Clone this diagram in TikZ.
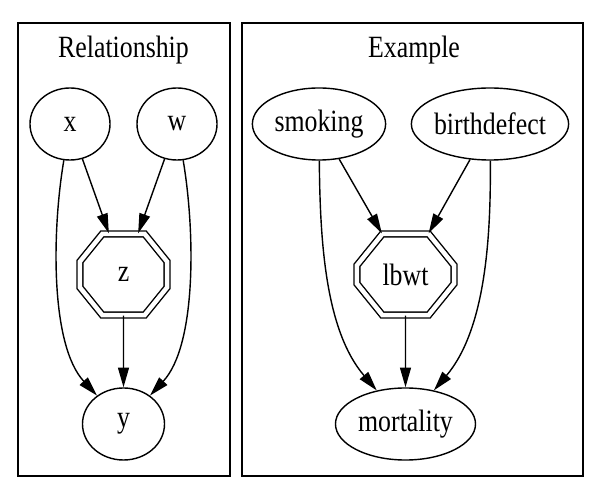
\documentclass[tikz,border=0pt]{standalone}
\usepackage{fontspec}
\newfontfamily\gvfamily[FakeStretch=0.835]{Liberation Serif}
\usetikzlibrary{shapes.geometric,shapes.misc,arrows.meta,positioning}

\begin{document}
\begin{tikzpicture}[x=0.025cm, y=0.025cm, >={Triangle[length=14pt,width=7.8pt]},
  every node/.style={font=\gvfamily\fontsize{22}{26}\selectfont},
  ellnode/.style={draw, ellipse, line width=1pt, inner sep=0pt, minimum height=1.8cm},
  octnode/.style={draw, chamfered rectangle, double, double distance=3.2pt, line width=1pt,
    inner sep=0pt, text width=1.15cm, align=center, chamfered rectangle angle=39,
    chamfered rectangle xsep=0.63cm, chamfered rectangle ysep=0.51cm, minimum height=2.025cm},
  link/.style={->, line width=1pt}]
  \useasboundingbox (0,0) rectangle (600,500);

  % clusters
  \draw[line width=0.9pt] (18,24) rectangle (230,477);
  \draw[line width=0.9pt] (242,24) rectangle (583,477);
  \node[anchor=base] at (123.5,442) (reltitle) {Relationship};
  \node[anchor=base] at (414,442) (extitle) {Example};

  % relationship
  \node[ellnode, minimum width=2cm] at (70,376) (x) {x};
  \node[ellnode, minimum width=2cm] at (177,376) (w) {w};
  \node[octnode, minimum width=2.175cm] at (123.5,225.5) (z) {z};
  \node[ellnode, minimum width=2.05cm] at (123.5,76) (y) {y};

  \draw[link] (x) -- (z);
  \draw[link] (w) -- (z);
  \draw[link] (z) -- (y);
  \draw[link] (x) .. controls (52,270) and (50,155) .. (y);
  \draw[link] (w) .. controls (195,270) and (197,155) .. (y);

  % example
  \node[ellnode, minimum width=3.33cm] at (319,376) (smoking) {smoking};
  \node[ellnode, minimum width=3.93cm, inner xsep=-4pt] at (490,376) (birthdefect) {birthdefect};
  \node[octnode, minimum width=2.425cm] at (405.5,225.5) (lbwt) {lbwt};
  \node[ellnode, minimum width=3.5cm] at (405.5,76) (mortality) {mortality};

  \draw[link] (smoking) -- (lbwt);
  \draw[link] (birthdefect) -- (lbwt);
  \draw[link] (lbwt) -- (mortality);
  \draw[link] (smoking) .. controls (320,260) and (325,170) .. (mortality);
  \draw[link] (birthdefect) .. controls (491,260) and (485,170) .. (mortality);
\end{tikzpicture}
\end{document}
